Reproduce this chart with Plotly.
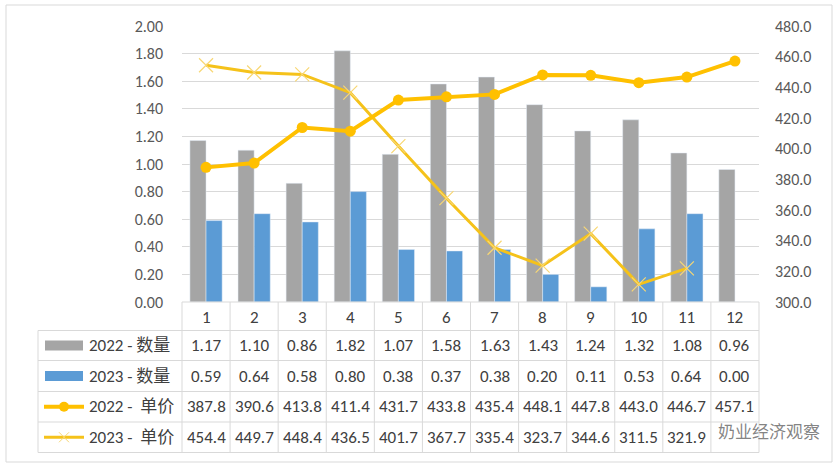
import plotly.graph_objects as go

months = [str(m) for m in range(1, 13)]
qty_2022 = [1.17, 1.10, 0.86, 1.82, 1.07, 1.58, 1.63, 1.43, 1.24, 1.32, 1.08, 0.96]
qty_2023 = [0.59, 0.64, 0.58, 0.80, 0.38, 0.37, 0.38, 0.20, 0.11, 0.53, 0.64, 0.00]
price_2022 = [387.8, 390.6, 413.8, 411.4, 431.7, 433.8, 435.4, 448.1, 447.8, 443.0, 446.7, 457.1]
price_2023 = [454.4, 449.7, 448.4, 436.5, 401.7, 367.7, 335.4, 323.7, 344.6, 311.5, 321.9, None]
series_names = ["2022 - 数量", "2023 - 数量", "2022 -  单价", "2023 -  单价"]

W, H = 834, 466
FONT = "Carlito, Lato, 'Noto Sans CJK SC', sans-serif"
CJK = "Carlito, Lato, 'Noto Sans CJK SC', sans-serif"
TXT = "#404040"
GRID = "#D9D9D9"
C_GRAY, C_BLUE, C_GOLD, C_GOLD2 = "#A5A5A5", "#5B9BD5", "#FFC000", "#F5C21A"

def px(x):
    return x / W

def py(y):
    return 1 - y / H

x_vals = list(range(1, 13))
plot_l, plot_r, plot_t, plot_b = 182, 759, 26, 302

fig = go.Figure()
fig.add_trace(go.Bar(x=x_vals, y=qty_2022, name=series_names[0], marker_color=C_GRAY, yaxis="y"))
fig.add_trace(go.Bar(x=x_vals, y=qty_2023, name=series_names[1], marker_color=C_BLUE, yaxis="y"))
fig.add_trace(go.Scatter(x=x_vals, y=price_2023, name=series_names[3], yaxis="y2", mode="lines+markers",
                         line=dict(color=C_GOLD2, width=3),
                         marker=dict(symbol="x-thin", size=14, line=dict(color="#F8D774", width=1.2))))
fig.add_trace(go.Scatter(x=x_vals, y=price_2022, name=series_names[2], yaxis="y2", mode="lines+markers",
                         line=dict(color=C_GOLD, width=4),
                         marker=dict(symbol="circle", size=11, color=C_GOLD)))

fig.update_layout(
    width=W, height=H, margin=dict(l=0, r=0, t=0, b=0, pad=0, autoexpand=False),
    paper_bgcolor="white", plot_bgcolor="white",
    showlegend=False, barmode="group", bargap=0.33, bargroupgap=0,
    font=dict(family=FONT, color="#595959", size=16),
    xaxis=dict(domain=[px(plot_l), px(plot_r)], range=[0.5, 12.5], showticklabels=False,
               showgrid=False, zeroline=False, showline=False, ticks="", automargin=False),
    yaxis=dict(domain=[py(plot_b), py(plot_t)], range=[0, 2], dtick=0.2, tickformat=".2f",
               showgrid=True, gridcolor=GRID, gridwidth=1, zeroline=False, showline=False,
               ticks="", ticklabelstandoff=18, automargin=False,
               tickfont=dict(size=16, color="#595959")),
    yaxis2=dict(domain=[py(plot_b), py(plot_t)], overlaying="y", side="right", range=[300, 480],
                dtick=20, tickformat=".1f", showgrid=False, zeroline=False, showline=False,
                ticks="", ticklabelstandoff=15, automargin=False,
                tickfont=dict(size=16, color="#595959")),
)

shapes = []
annotations = []
# outer border
shapes.append(dict(type="rect", xref="paper", yref="paper", x0=px(6), x1=px(832), y0=py(462), y1=py(5),
                   line=dict(color=GRID, width=1), layer="below"))

# table geometry
row_lines = [330.5, 360.5, 391.5, 422, 452.5]
col_w = (plot_r - plot_l) / 12
tab_l = 38
shapes.append(dict(type="line", xref="paper", yref="paper", x0=px(plot_l), x1=px(plot_r),
                   y0=py(plot_b), y1=py(plot_b), line=dict(color=GRID, width=1)))
for yl in row_lines:
    shapes.append(dict(type="line", xref="paper", yref="paper", x0=px(tab_l), x1=px(plot_r),
                       y0=py(yl), y1=py(yl), line=dict(color=GRID, width=1)))
for i in range(13):
    xl = plot_l + i * col_w
    shapes.append(dict(type="line", xref="paper", yref="paper", x0=px(xl), x1=px(xl),
                       y0=py(plot_b), y1=py(row_lines[-1]), line=dict(color=GRID, width=1)))
shapes.append(dict(type="line", xref="paper", yref="paper", x0=px(tab_l), x1=px(tab_l),
                   y0=py(row_lines[0]), y1=py(row_lines[-1]), line=dict(color=GRID, width=1)))

# header (months)
hdr_y = (plot_b + row_lines[0]) / 2 + 1
for i, m in enumerate(months):
    annotations.append(dict(x=x_vals[i], xref="x", y=py(hdr_y), yref="paper", text=m, showarrow=False,
                            font=dict(size=17, color=TXT, family=FONT), xanchor="center", yanchor="middle"))

rows = [qty_2022, qty_2023, price_2022, price_2023]
fmts = ["{:.2f}", "{:.2f}", "{:.1f}", "{:.1f}"]
for r, (vals, fmt) in enumerate(zip(rows, fmts)):
    yc = (row_lines[r] + row_lines[r + 1]) / 2
    for i, v in enumerate(vals):
        if v is None:
            continue
        annotations.append(dict(x=x_vals[i], xref="x", y=py(yc), yref="paper", text=fmt.format(v),
                                showarrow=False, font=dict(size=17, color=TXT, family=FONT),
                                xanchor="center", yanchor="middle"))
    annotations.append(dict(x=px(87), xref="paper", y=py(yc), yref="paper", text=series_names[r],
                            showarrow=False, font=dict(size=17, color=TXT, family=CJK),
                            xanchor="left", yanchor="middle"))
    if r < 2:
        col = C_GRAY if r == 0 else C_BLUE
        shapes.append(dict(type="rect", xref="paper", yref="paper", x0=px(45), x1=px(83),
                           y0=py(yc + 5), y1=py(yc - 5), fillcolor=col, line=dict(width=0)))
    elif r == 2:
        shapes.append(dict(type="line", xref="paper", yref="paper", x0=px(44), x1=px(84),
                           y0=py(yc), y1=py(yc), line=dict(color=C_GOLD, width=4)))
        shapes.append(dict(type="circle", xref="paper", yref="paper", x0=px(59), x1=px(69),
                           y0=py(yc + 5), y1=py(yc - 5), fillcolor=C_GOLD, line=dict(width=0)))
    else:
        shapes.append(dict(type="line", xref="paper", yref="paper", x0=px(44), x1=px(84),
                           y0=py(yc), y1=py(yc), line=dict(color=C_GOLD2, width=3)))
        for d in (1, -1):
            shapes.append(dict(type="line", xref="paper", yref="paper", x0=px(59), x1=px(69),
                               y0=py(yc + 5 * d), y1=py(yc - 5 * d), line=dict(color="#F8D774", width=1)))

# watermark
annotations.append(dict(x=px(716), xref="paper", y=py(430), yref="paper", text="奶业经济观察",
                        showarrow=False, font=dict(size=17, color="rgba(110,110,110,0.85)",
                        family="'Noto Sans CJK SC', sans-serif"), xanchor="left", yanchor="middle"))

fig.update_layout(shapes=shapes, annotations=annotations)
fig.write_html("out.html")
